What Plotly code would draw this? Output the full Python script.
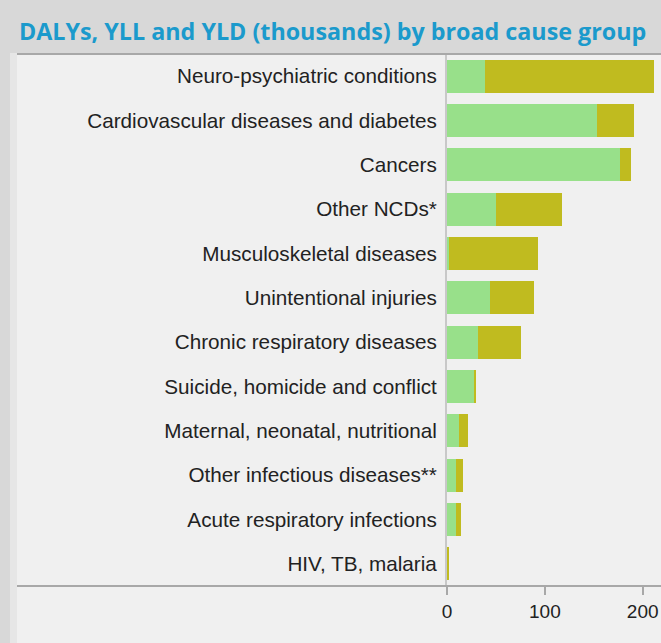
import plotly.graph_objects as go

categories = [
    "Neuro-psychiatric conditions",
    "Cardiovascular diseases and diabetes",
    "Cancers",
    "Other NCDs*",
    "Musculoskeletal diseases",
    "Unintentional injuries",
    "Chronic respiratory diseases",
    "Suicide, homicide and conflict",
    "Maternal, neonatal, nutritional",
    "Other infectious diseases**",
    "Acute respiratory infections",
    "HIV, TB, malaria",
]
yll = [38.6, 153.5, 177, 50.2, 2, 43.7, 32.1, 27.7, 12.3, 9.6, 8.9, 0.7]
yld = [173.3, 37.3, 11.3, 67.2, 91.2, 45.7, 43.3, 2.4, 9.6, 6.5, 5.1, 1.3]
tick_vals = [0, 100, 200]
title_text = "DALYs, YLL and YLD (thousands) by broad cause group"

W, H = 661, 643
L, R, T, B = 447, 0, 54, 57
pw = W - L - R
ph = H - T - B

fig = go.Figure()
fig.add_trace(go.Bar(y=categories, x=yll, orientation="h", name="YLL",
                     marker=dict(color="#98e08a", line=dict(width=0)), width=0.745))
fig.add_trace(go.Bar(y=categories, x=yld, orientation="h", name="YLD",
                     marker=dict(color="#c0bb1f", line=dict(width=0)), width=0.745))

def px_x(x):
    return (x - L) / pw

def px_y(y):
    return (H - B - y) / ph

shapes = [
    dict(type="rect", xref="paper", yref="paper", x0=px_x(0), x1=px_x(W), y0=px_y(53), y1=px_y(0),
         fillcolor="#d8d8d8", line=dict(width=0), layer="below"),
    dict(type="rect", xref="paper", yref="paper", x0=px_x(0), x1=px_x(10), y0=px_y(H), y1=px_y(53),
         fillcolor="#d8d8d8", line=dict(width=0), layer="below"),
    dict(type="rect", xref="paper", yref="paper", x0=px_x(10), x1=px_x(17), y0=px_y(H), y1=px_y(53),
         fillcolor="#e6e6e6", line=dict(width=0), layer="below"),
    dict(type="line", xref="paper", yref="paper", x0=px_x(17), x1=px_x(W), y0=px_y(54), y1=px_y(54),
         line=dict(color="#a8a8a8", width=2), layer="above"),
    dict(type="line", xref="paper", yref="paper", x0=px_x(17), x1=px_x(W), y0=0, y1=0,
         line=dict(color="#a8a8a8", width=2), layer="above"),
]

fig.update_layout(
    width=W, height=H,
    margin=dict(l=L, r=R, t=T, b=B, pad=0),
    paper_bgcolor="#f0f0f0",
    plot_bgcolor="#f0f0f0",
    barmode="stack",
    showlegend=False,
    shapes=shapes,
    annotations=[dict(text="<b>" + title_text + "</b>", xref="paper", yref="paper",
                      x=px_x(17), y=px_y(31), xanchor="left", yanchor="middle",
                      showarrow=False,
                      font=dict(family="Open Sans", size=23.3, color="#1b9acc"))],
    font=dict(family="Liberation Sans, Arial", color="#222222"),
)
fig.update_xaxes(range=[0, 218.7], tickvals=tick_vals, showgrid=False, zeroline=False,
                 showline=False, ticks="outside", ticklen=8, tickcolor="#a8a8a8", tickwidth=2,
                 tickfont=dict(size=19, color="#222222", family="Liberation Sans, Arial"))
fig.update_yaxes(categoryorder="array", categoryarray=categories, autorange="reversed",
                 showgrid=False, zeroline=False, showline=True, linecolor="#c8c8c8", linewidth=2,
                 ticks="", ticklabelstandoff=4,
                 tickfont=dict(size=20.7, color="#222222", family="Liberation Sans, Arial"))

fig.write_html("out.html", config={"displayModeBar": False},
               post_script="document.body.style.margin='0';document.body.style.overflow='hidden';")
